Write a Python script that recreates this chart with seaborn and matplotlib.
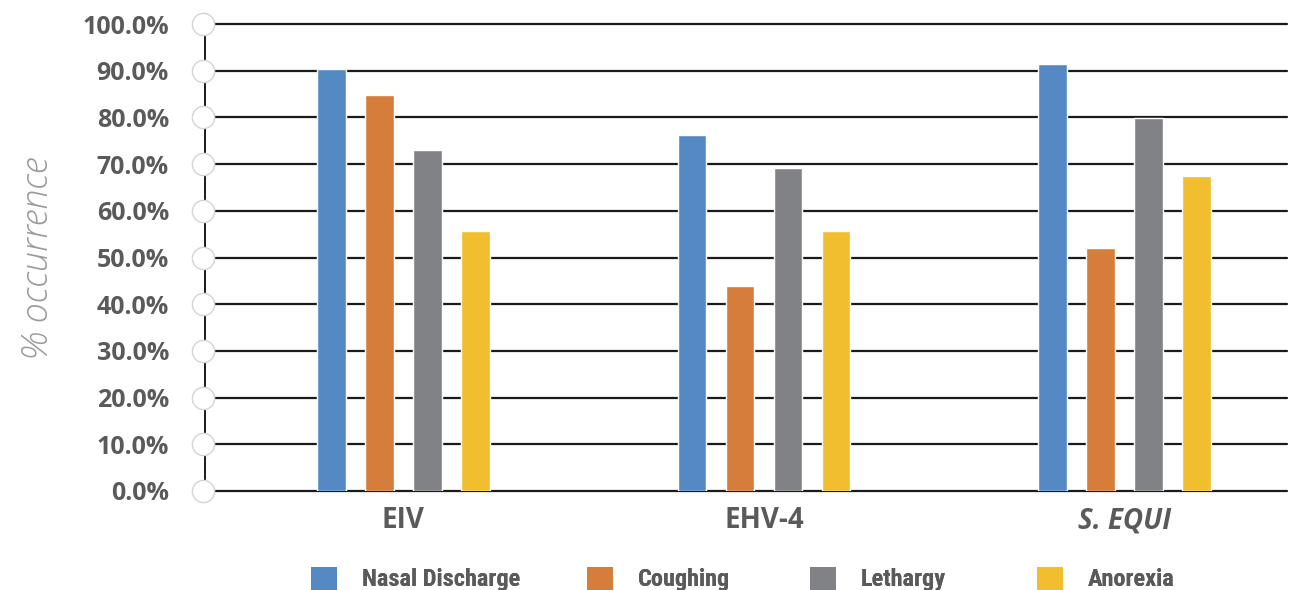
import matplotlib
matplotlib.use("Agg")
import matplotlib.pyplot as plt
import seaborn as sns
import pandas as pd
from matplotlib.patches import Patch

categories = ["EIV", "EHV-4", "S. EQUI"]
series = ["Nasal Discharge", "Coughing", "Lethargy", "Anorexia"]
nasal = [90.4, 76.2, 91.4]
coughing = [84.8, 43.9, 52.0]
lethargy = [73.0, 69.2, 79.9]
anorexia = [55.7, 55.7, 67.5]
yticks = [0, 10, 20, 30, 40, 50, 60, 70, 80, 90, 100]
colors = ["#5589C4", "#D57D3A", "#818285", "#F0BE2E"]
legend_x_px = [306, 582, 805, 1032]

rows = []
for s, vals in zip(series, [nasal, coughing, lethargy, anorexia]):
    for c, v in zip(categories, vals):
        rows.append({"cat": c, "series": s, "val": v})
df = pd.DataFrame(rows)

sns.set_theme(style="white")
fig = plt.figure(figsize=(13.01, 5.90), dpi=100)
ax = fig.add_axes([205/1301, 1 - 491/590, (1287-205)/1301, (491-24)/590])

sns.barplot(data=df, x="cat", y="val", hue="series", order=categories,
            hue_order=series, palette=colors, width=0.532, gap=0.4,
            saturation=1, ax=ax, legend=False, zorder=3)

ax.set_xlim(-0.55, 2.45)
ax.set_ylim(0, 100)
ax.set_yticks(yticks)
ax.set_yticklabels([f"{v:.1f}%" for v in yticks], fontfamily="Open Sans",
                   fontweight="bold", fontsize=18, color="#5a5a5a")
for y in yticks:
    ax.axhline(y, color="#1a1a1a", lw=1.6, zorder=1, clip_on=False)
for sp in ["top", "right", "bottom"]:
    ax.spines[sp].set_visible(False)
ax.spines["left"].set_color("#1a1a1a")
ax.spines["left"].set_linewidth(1.4)
ax.spines["left"].set_zorder(1)
ax.plot([-0.555]*len(yticks), yticks, "o", ms=16, mfc="white", mec="#d4d4d4",
        mew=1.0, clip_on=False, zorder=5)
ax.tick_params(axis="y", length=0, pad=26)
ax.tick_params(axis="x", length=0, pad=11)
ax.set_xticks(range(len(categories)))
ax.set_xticklabels(categories, fontfamily="Open Sans", fontweight="bold",
                   fontsize=20, color="#5a5a5a")
ax.get_xticklabels()[2].set_fontstyle("italic")
ax.set_xlabel("")
ax.set_ylabel("% occurrence", fontfamily="Open Sans", fontstyle="italic",
              fontweight="light", fontsize=26, color="#9a9a9a", labelpad=19)

for s, c, xp in zip(series, colors, legend_x_px):
    leg = fig.legend([Patch(facecolor=c, edgecolor="none")], [s], loc="center left",
                     bbox_to_anchor=(xp/1301, 1 - 579/590), frameon=False,
                     handlelength=1.07, handleheight=1.07, handletextpad=1.03,
                     borderpad=0.2, borderaxespad=0,
                     prop={"family": "Roboto Condensed", "weight": "bold", "size": 17.5,
                           "stretch": "condensed"})
    for t in leg.get_texts():
        t.set_color("#5a5a5a")
    fig.add_artist(leg)

fig.savefig("out.png", dpi=100)
